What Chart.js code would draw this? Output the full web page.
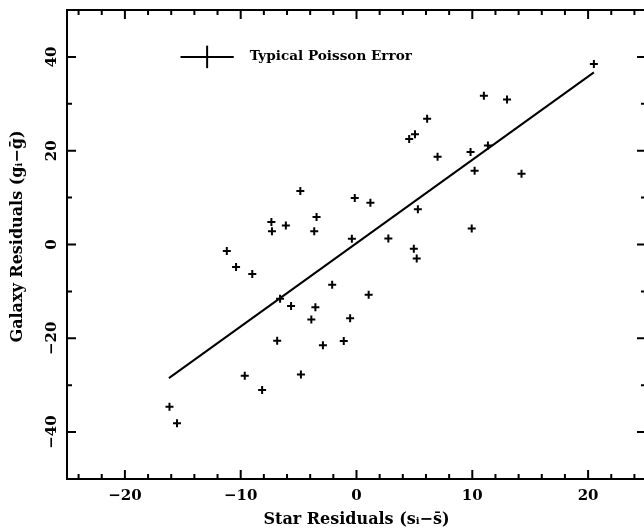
<!DOCTYPE html>
<html>
<head>
<meta charset="utf-8">
<script src="https://cdn.jsdelivr.net/npm/chart.js@4"></script>
<style>
html, body { margin: 0; padding: 0; background: #fff; overflow: hidden; }
</style>
</head>
<body>
<canvas id="residualChart" width="652" height="529"></canvas>
<script>
// residuals of star counts vs galaxy counts
const starResiduals = [
    20.5, 11.0, 13.0, 6.1, 5.05, 4.55, 7.0, 9.85, 11.35, 10.2, 14.25,
    -0.15, 1.2, 5.3, 9.95, -0.4, 2.75, 4.95, 5.2,
    -4.85, -7.35, -7.3, -6.1, -3.45, -3.65, -11.2, -10.4, -9.0,
    -6.6, -5.65, -3.55, -3.9, -6.85, -2.9, -9.65, -4.8, -8.15, -16.15, -15.5,
    -2.1, 1.05, -0.55, -1.1
];
const galaxyResiduals = [
    38.5, 31.7, 30.9, 26.8, 23.5, 22.5, 18.7, 19.7, 21.1, 15.7, 15.1,
    9.9, 8.9, 7.5, 3.4, 1.2, 1.3, -0.9, -3.0,
    11.4, 4.8, 2.85, 4.05, 5.85, 2.8, -1.4, -4.8, -6.3,
    -11.55, -13.1, -13.4, -16.0, -20.5, -21.5, -28.0, -27.7, -31.0, -34.6, -38.1,
    -8.6, -10.7, -15.7, -20.6
];
// fitted line end points
const fitX = [-16.2, 20.5];
const fitY = [-28.5, 36.7];
// typical poisson error bar (centre, half sizes)
const errCentre = [-12.9, 40];
const errHalf = [2.3, 2.4];
const errLabel = 'Typical Poisson Error';

const xTicks = [-20, -10, 0, 10, 20];
const yTicks = [-40, -20, 0, 20, 40];
const xMinor = 2;
const yMinor = 10;

const serif = "'DejaVu Serif', 'Liberation Serif', serif";
const minus = v => (v < 0 ? '\u2212' + Math.abs(v) : String(v));

const points = starResiduals.map((s, i) => ({ x: s, y: galaxyResiduals[i] }));
const fitLine = fitX.map((x, i) => ({ x: x, y: fitY[i] }));
const errH = [
    { x: errCentre[0] - errHalf[0], y: errCentre[1] },
    { x: errCentre[0] + errHalf[0], y: errCentre[1] }
];
const errV = [
    { x: errCentre[0], y: errCentre[1] - errHalf[1] },
    { x: errCentre[0], y: errCentre[1] + errHalf[1] }
];

// frame with inward ticks, rotated y labels and the error bar label
const framePlugin = {
    id: 'frame',
    afterDraw(chart) {
        const c = chart.ctx;
        const a = chart.chartArea;
        const sx = chart.scales.x;
        const sy = chart.scales.y;
        c.save();
        c.strokeStyle = '#000';
        c.lineWidth = 2;
        c.strokeRect(a.left, a.top, a.right - a.left, a.bottom - a.top);

        for (let v = sx.min + 1; v < sx.max; v += xMinor) {
            const px = sx.getPixelForValue(v);
            const len = (v % 10 === 0) ? 9 : 5;
            c.beginPath();
            c.moveTo(px, a.bottom); c.lineTo(px, a.bottom - len);
            c.moveTo(px, a.top); c.lineTo(px, a.top + len);
            c.stroke();
        }
        for (let v = sy.min + yMinor; v < sy.max; v += yMinor) {
            const py = sy.getPixelForValue(v);
            const len = (v % 20 === 0) ? 9 : 5;
            c.beginPath();
            c.moveTo(a.left, py); c.lineTo(a.left + len, py);
            c.moveTo(a.right, py); c.lineTo(a.right - len, py);
            c.stroke();
        }

        c.fillStyle = '#000';
        c.font = 'bold 15px ' + serif;
        c.textAlign = 'center';
        c.textBaseline = 'middle';
        yTicks.forEach(v => {
            c.save();
            c.translate(52, sy.getPixelForValue(v));
            c.rotate(-Math.PI / 2);
            c.fillText(minus(v), 0, 0);
            c.restore();
        });

        c.font = 'bold 13.6px ' + serif;
        c.textAlign = 'left';
        c.fillText(errLabel, sx.getPixelForValue(errCentre[0] + errHalf[0]) + 16,
            sy.getPixelForValue(errCentre[1]));
        c.restore();
    }
};

const ctx = document.getElementById('residualChart').getContext('2d');
new Chart(ctx, {
    type: 'scatter',
    data: {
        datasets: [
            {
                data: points,
                pointStyle: 'cross',
                pointRadius: 4,
                borderColor: '#000',
                borderWidth: 2
            },
            {
                type: 'line',
                data: fitLine,
                borderColor: '#000',
                borderWidth: 2,
                pointRadius: 0
            },
            { type: 'line', data: errH, borderColor: '#000', borderWidth: 2, pointRadius: 0 },
            { type: 'line', data: errV, borderColor: '#000', borderWidth: 2, pointRadius: 0 }
        ]
    },
    options: {
        responsive: false,
        animation: false,
        layout: { padding: { top: 10, right: 3, left: 0, bottom: 0 } },
        plugins: {
            legend: { display: false },
            tooltip: { enabled: false }
        },
        scales: {
            x: {
                type: 'linear',
                min: -25,
                max: 25,
                afterBuildTicks: s => { s.ticks = xTicks.map(v => ({ value: v })); },
                afterFit: s => { s.height = 50; },
                ticks: {
                    color: '#000',
                    font: { family: serif, size: 15, weight: 'bold' },
                    padding: 8,
                    maxRotation: 0,
                    callback: v => minus(v)
                },
                grid: { display: false, drawTicks: false },
                border: { display: false },
                title: {
                    display: true,
                    text: 'Star Residuals (s\u1d62\u2212s\u0304)',
                    color: '#000',
                    font: { family: serif, size: 16, weight: 'bold' },
                    padding: { top: 3, bottom: 0 }
                }
            },
            y: {
                type: 'linear',
                min: -50,
                max: 50,
                afterBuildTicks: s => { s.ticks = yTicks.map(v => ({ value: v })); },
                afterFit: s => { s.width = 67; },
                ticks: { display: false },
                grid: { display: false, drawTicks: false },
                border: { display: false },
                title: {
                    display: true,
                    // leading spaces nudge the centred title up a little, as in the original
                    text: '\u2002\u2002Galaxy Residuals (g\u1d62\u2212\u1e21)',
                    color: '#000',
                    font: { family: serif, size: 16, weight: 'bold' },
                    padding: { top: 8, bottom: 0 }
                }
            }
        }
    },
    plugins: [framePlugin]
});
</script>
</body>
</html>
